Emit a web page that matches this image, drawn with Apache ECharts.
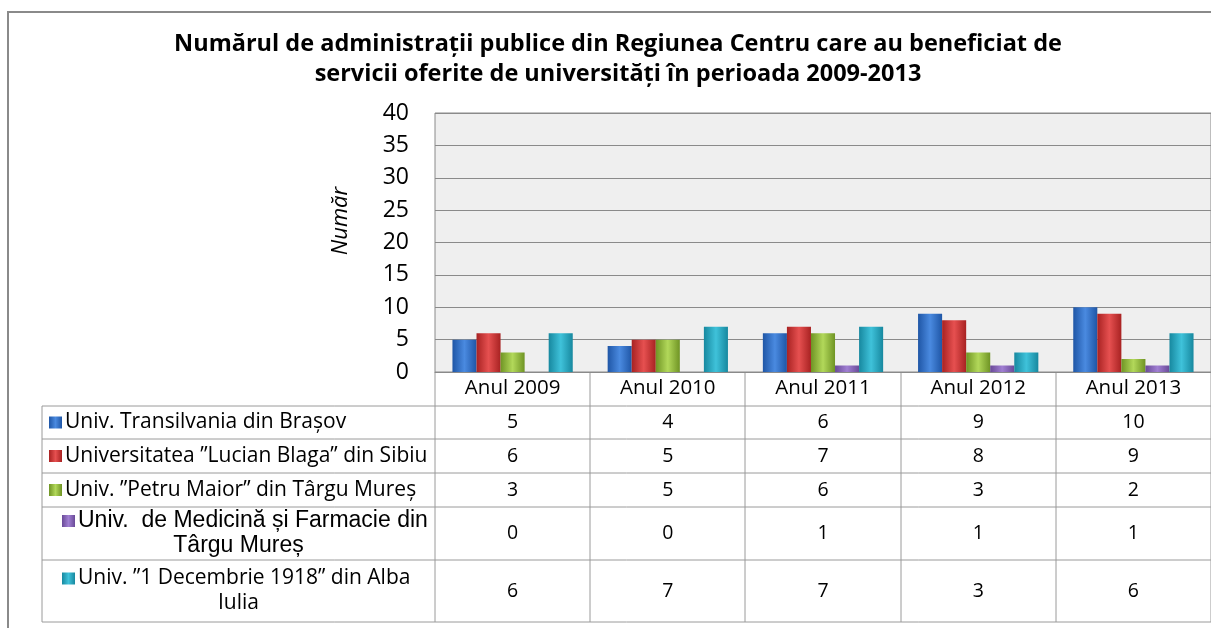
<!DOCTYPE html>
<html>
<head>
<meta charset="utf-8">
<script src="https://cdn.jsdelivr.net/npm/echarts@6/dist/echarts.min.js"></script>
<style>
  html, body { margin: 0; padding: 0; background: #fff; }
  #chart { width: 1211px; height: 628px; }
</style>
</head>
<body>
<div id="chart"></div>
<script>
const categories = ['Anul 2009', 'Anul 2010', 'Anul 2011', 'Anul 2012', 'Anul 2013'];
const seriesNames = [
  'Univ. Transilvania din Brașov',
  'Universitatea ”Lucian Blaga” din Sibiu',
  'Univ. ”Petru Maior” din Târgu Mureș',
  'Univ. de Medicină și Farmacie din Târgu Mureș',
  'Univ. ”1 Decembrie 1918” din Alba Iulia'
];
// how the row headers wrap inside the data table
const rowHeaderLines = [
  ['Univ. Transilvania din Brașov'],
  ['Universitatea ”Lucian Blaga” din Sibiu'],
  ['Univ. ”Petru Maior” din Târgu Mureș'],
  ['Univ.  de Medicină și Farmacie din', 'Târgu Mureș'],
  ['Univ. ”1 Decembrie 1918” din Alba', 'Iulia']
];
const brasov = [5, 4, 6, 9, 10];
const sibiu = [6, 5, 7, 8, 9];
const petruMaior = [3, 5, 6, 3, 2];
const medicina = [0, 0, 1, 1, 1];
const albaIulia = [6, 7, 7, 3, 6];
const allValues = [brasov, sibiu, petruMaior, medicina, albaIulia];

// [dark edge, light centre]
const palette = [
  ['#1f56a6', '#4a8ae0'],
  ['#a82222', '#e65050'],
  ['#6f9424', '#b2d85a'],
  ['#6a4a98', '#a07fd2'],
  ['#17889f', '#3fc2da']
];

function barFill(i) {
  return new echarts.graphic.LinearGradient(0, 0, 1, 0, [
    {offset: 0, color: palette[i][0]},
    {offset: 0.5, color: palette[i][1]},
    {offset: 1, color: palette[i][0]}
  ]);
}

const chart = echarts.init(document.getElementById('chart'));

const FONT = '"Open Sans", sans-serif';
const plotBottom = 372;
const rowLines = [406, 439, 473, 507, 560, 622];
const tableLeft = 42;
const lineColor = '#9a9a9a';

chart.setOption({
  animation: false,
  title: {
    text: 'Numărul de administrații publice din Regiunea Centru care au beneficiat de\nservicii oferite de universități în perioada 2009-2013',
    left: 613,
    top: 24,
    textAlign: 'center',
    textStyle: {
      fontFamily: FONT,
      fontSize: 23.5,
      fontWeight: 'bold',
      color: '#000',
      lineHeight: 30
    }
  },
  grid: {
    left: 435,
    top: 113,
    right: -12,
    height: plotBottom - 113,
    show: true,
    backgroundColor: '#efefef',
    borderColor: '#8a8a8a',
    borderWidth: 1
  },
  xAxis: {
    type: 'category',
    data: categories,
    axisLine: {lineStyle: {color: '#8a8a8a'}},
    axisTick: {show: false},
    axisLabel: {
      fontFamily: FONT,
      fontSize: 20.5,
      color: '#000',
      margin: 6
    }
  },
  yAxis: {
    type: 'value',
    min: 0,
    max: 40,
    interval: 5,
    axisLine: {show: false},
    axisTick: {show: false},
    axisLabel: {
      fontFamily: FONT,
      fontSize: 23,
      color: '#000',
      margin: 26
    },
    splitLine: {lineStyle: {color: '#8a8a8a', width: 1}}
  },
  series: allValues.map((vals, i) => ({
    name: seriesNames[i],
    type: 'bar',
    data: vals,
    barGap: '0%',
    barCategoryGap: '22.5%',
    itemStyle: {
      color: barFill(i)
    }
  }))
});

// data table under the chart, aligned on the category axis
const c0 = chart.convertToPixel({xAxisIndex: 0}, 0);
const c1 = chart.convertToPixel({xAxisIndex: 0}, 1);
const band = c1 - c0;
const graphics = [];

// outer frame
graphics.push({
  type: 'polyline',
  shape: {points: [[8, 628], [8, 12], [1211, 12]]},
  style: {stroke: '#8a8a8a', lineWidth: 2, fill: null}
});

// y axis title
graphics.push({
  type: 'text',
  x: 341,
  y: 221,
  rotation: Math.PI / 2,
  style: {
    text: 'Număr', font: 'italic 22px ' + FONT, fill: '#000',
    align: 'center', verticalAlign: 'middle',
    textAlign: 'center', textVerticalAlign: 'middle'
  }
});

rowLines.forEach(y => {
  graphics.push({
    type: 'line',
    shape: {x1: tableLeft, y1: y, x2: 1211, y2: y},
    style: {stroke: lineColor, lineWidth: 1}
  });
});
graphics.push({
  type: 'line',
  shape: {x1: tableLeft, y1: rowLines[0], x2: tableLeft, y2: rowLines[5]},
  style: {stroke: lineColor, lineWidth: 1}
});
for (let i = 0; i <= categories.length; i++) {
  const x = Math.round(c0 - band / 2 + i * band);
  graphics.push({
    type: 'line',
    shape: {x1: x, y1: plotBottom, x2: x, y2: rowLines[5]},
    style: {stroke: lineColor, lineWidth: 1}
  });
}

rowHeaderLines.forEach((lines, r) => {
  const top = rowLines[r], bottom = rowLines[r + 1];
  const mid = (top + bottom) / 2;
  const wrapped = lines.length > 1;
  const font = wrapped && r === 3
    ? '23px "Liberation Sans", Arial, sans-serif'
    : '21px ' + FONT;
  const lh = 25;
  if (!wrapped) {
    graphics.push({
      type: 'rect',
      shape: {x: 49, y: mid - 6, width: 13, height: 12},
      style: {fill: barFill(r)}
    });
    graphics.push({
      type: 'text',
      style: {
        text: lines[0], x: 65, y: mid, font: font, fill: '#000',
        align: 'left', verticalAlign: 'middle',
        textAlign: 'left', textVerticalAlign: 'middle'
      }
    });
  } else {
    const y1 = mid - lh / 2, y2 = mid + lh / 2;
    graphics.push({
      type: 'rect',
      shape: {x: 62, y: y1 - 6, width: 13, height: 12},
      style: {fill: barFill(r)}
    });
    graphics.push({
      type: 'text',
      style: {
        text: lines[0], x: 78, y: y1, font: font, fill: '#000',
        align: 'left', verticalAlign: 'middle',
        textAlign: 'left', textVerticalAlign: 'middle'
      }
    });
    graphics.push({
      type: 'text',
      style: {
        text: lines[1], x: (tableLeft + 435) / 2, y: y2, font: font, fill: '#000',
        align: 'center', verticalAlign: 'middle',
        textAlign: 'center', textVerticalAlign: 'middle'
      }
    });
  }
  allValues[r].forEach((v, c) => {
    graphics.push({
      type: 'text',
      style: {
        text: String(v), x: c0 + c * band, y: mid, font: '19.5px ' + FONT, fill: '#000',
        align: 'center', verticalAlign: 'middle',
        textAlign: 'center', textVerticalAlign: 'middle'
      }
    });
  });
});

chart.setOption({graphic: {elements: graphics}});
</script>
</body>
</html>
